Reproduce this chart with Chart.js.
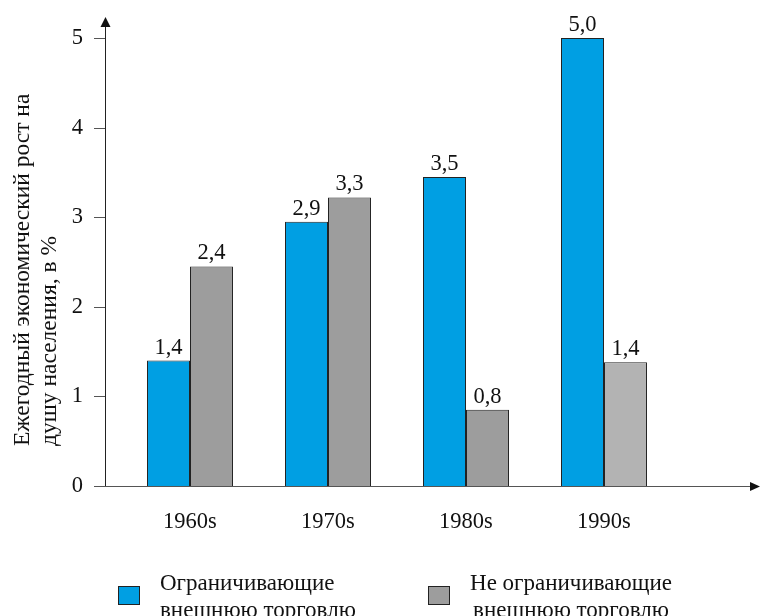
<!DOCTYPE html>
<html>
<head>
<meta charset="utf-8">
<script src="https://cdn.jsdelivr.net/npm/chart.js@4.4.1/dist/chart.umd.min.js"></script>
<style>
  body { margin: 0; background: #fff; }
  .wrap { position: relative; width: 760px; height: 616px; overflow: hidden; font-family: "Liberation Serif", serif; color: #111; }
  canvas { position: absolute; left: 0; top: 0; }
  .sw { position: absolute; width: 20px; height: 17px; border: 1px solid #222; }
  .lt { position: absolute; font-size: 23px; line-height: 27px; white-space: nowrap; }
</style>
</head>
<body>
<div class="wrap">
  <canvas id="chart" width="760" height="616"></canvas>
  <div class="sw" id="sw0" style="left:118px; top:586px;"></div>
  <div class="lt" id="lt0" style="left:160px; top:569px; text-align:left;"></div>
  <div class="sw" id="sw1" style="left:428px; top:586px;"></div>
  <div class="lt" id="lt1" style="left:466px; top:569px; width:210px; text-align:center;"></div>
</div>
<script>
const decades = ["1960s", "1970s", "1980s", "1990s"];
const restricting = [1.4, 2.95, 3.45, 5.0];
const notRestricting = [2.45, 3.22, 0.85, 1.38];
const restrictingLabels = ["1,4", "2,9", "3,5", "5,0"];
const notRestrictingLabels = ["2,4", "3,3", "0,8", "1,4"];
const seriesNames = [["Ограничивающие", "внешнюю торговлю"], ["Не ограничивающие", "внешнюю торговлю"]];
const yTitle = ["Ежегодный экономический рост на", "душу населения, в %"];

const blue = "#009fe3";
const gray = "#9d9d9d";
const grayLight = "#b3b3b3";
const font = "Liberation Serif";

// legend in html
document.getElementById("sw0").style.background = blue;
document.getElementById("sw1").style.background = gray;
document.getElementById("lt0").innerHTML = seriesNames[0].join("<br>");
document.getElementById("lt1").innerHTML = seriesNames[1].join("<br>");

const axesPlugin = {
  id: "axes",
  afterDraw(chart) {
    const ctx = chart.ctx;
    const y = chart.scales.y;
    const ax = 105;
    const y0 = Math.round(y.getPixelForValue(0)) + 0.5;
    ctx.save();
    ctx.strokeStyle = "#222";
    ctx.fillStyle = "#111";
    ctx.lineWidth = 1;
    // y axis
    ctx.beginPath();
    ctx.moveTo(ax + 0.5, y0);
    ctx.lineTo(ax + 0.5, 24);
    ctx.stroke();
    ctx.beginPath();
    ctx.moveTo(ax + 0.5, 17);
    ctx.lineTo(ax - 4.5, 27);
    ctx.lineTo(ax + 5.5, 27);
    ctx.closePath();
    ctx.fill();
    // x axis
    ctx.strokeStyle = "#555";
    ctx.beginPath();
    ctx.moveTo(94, y0);
    ctx.lineTo(752, y0);
    ctx.stroke();
    ctx.beginPath();
    ctx.moveTo(760, y0);
    ctx.lineTo(750, y0 - 4.5);
    ctx.lineTo(750, y0 + 4.5);
    ctx.closePath();
    ctx.fill();
    // y ticks
    y.ticks.forEach(t => {
      const py = Math.round(y.getPixelForValue(t.value)) + 0.5;
      ctx.beginPath();
      ctx.moveTo(94, py);
      ctx.lineTo(ax, py);
      ctx.stroke();
    });
    // y title, both lines starting at the same point
    ctx.font = "23.5px '" + font + "'";
    ctx.fillStyle = "#111";
    ctx.textAlign = "left";
    ctx.textBaseline = "middle";
    ctx.translate(0, 446);
    ctx.rotate(-Math.PI / 2);
    ctx.fillText(yTitle[0], 0, 23);
    ctx.fillText(yTitle[1], 0, 50);
    ctx.restore();

    // value labels
    ctx.save();
    ctx.font = "22.5px '" + font + "'";
    ctx.fillStyle = "#111";
    ctx.textAlign = "center";
    ctx.textBaseline = "alphabetic";
    const lbls = [restrictingLabels, notRestrictingLabels];
    chart.data.datasets.forEach((ds, i) => {
      chart.getDatasetMeta(i).data.forEach((bar, j) => {
        ctx.fillText(lbls[i][j], bar.x, bar.y - 7);
      });
    });
    ctx.restore();
  }
};

new Chart(document.getElementById("chart"), {
  type: "bar",
  data: {
    labels: decades,
    datasets: [
      {
        label: seriesNames[0].join(" "),
        data: restricting,
        backgroundColor: blue,
        borderColor: "#222",
        borderWidth: 1
      },
      {
        label: seriesNames[1].join(" "),
        data: notRestricting,
        backgroundColor: [gray, gray, gray, grayLight],
        borderColor: "#222",
        borderWidth: 1
      }
    ]
  },
  options: {
    responsive: false,
    animation: false,
    events: [],
    layout: { padding: { left: 6, right: 87, top: 38, bottom: 70 } },
    datasets: { bar: { categoryPercentage: 0.623, barPercentage: 1.0 } },
    plugins: { legend: { display: false }, tooltip: { enabled: false } },
    scales: {
      x: {
        grid: { display: false },
        border: { display: false },
        ticks: { color: "#111", font: { family: font, size: 22.5 }, padding: 15 },
        afterFit(s) { s.height = 60; s.paddingLeft = 0; s.paddingRight = 0; }
      },
      y: {
        min: 0,
        max: 5,
        grid: { display: false },
        border: { display: false },
        ticks: { stepSize: 1, color: "#111", font: { family: font, size: 22.5 }, padding: 30 },
        afterFit(s) { s.width = 115; s.paddingTop = 0; s.paddingBottom = 0; }
      }
    }
  },
  plugins: [axesPlugin]
});
</script>
</body>
</html>
